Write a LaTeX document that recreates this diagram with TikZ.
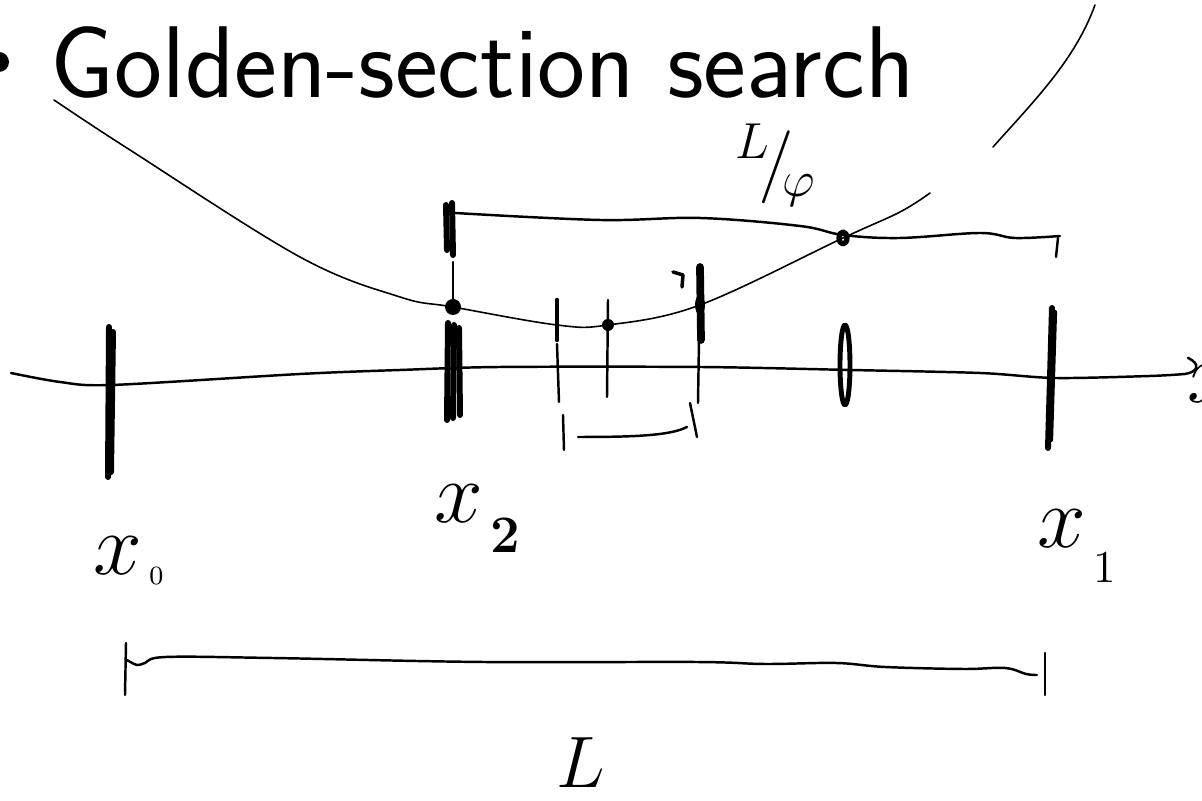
\documentclass[tikz,border=0pt]{standalone}
\usepackage{graphicx}
% handwritten label with a dropped, smaller index
\newcommand{\hlabel}[4]{\(#1\)\kern2pt\raisebox{-#4}{\fontsize{#3}{#3}\selectfont #2}}
\begin{document}
\begin{tikzpicture}[
  x=0.01cm,
  y=-0.01cm,
  line cap=round,
  line join=round,
  fine/.style={line width=0.45pt},
  pen/.style={line width=0.7pt},
  marker/.style={line width=1.7pt},
  hand/.style={inner sep=0pt,font=\fontsize{26pt}{30pt}\selectfont}
]
  \useasboundingbox (0,0) rectangle (1202,801);
  \clip (0,0) rectangle (1202,801);

  % Slide heading with its (cut) bullet.
  \fill (-1,62) circle[radius=10];
  \node[anchor=base west,inner sep=0pt,font=\sffamily\fontsize{29pt}{32pt}\selectfont] (title) at (50,98) {Golden-section search};

  % The function being minimised, and a stray stroke on the right.
  \draw[fine] plot[smooth,tension=0.6] coordinates {(54,100) (130,150) (300,257) (400,297) (453,307) (557,325) (608,325) (700,305) (843,238) (900,212) (930,193)};
  \draw[fine] (993,147) .. controls (1035,100) and (1075,60) .. (1095,5);

  % The x axis.
  \draw[pen] plot[smooth,tension=0.5] coordinates {(11,373) (60,382) (112,385) (300,374) (400,370) (500,367) (700,367) (850,370) (980,373) (1055,378) (1150,376) (1185,374)};
  \draw[pen] (1185,374) .. controls (1198,372) and (1201,364) .. (1188,358);
  \node[hand,anchor=base west] (xaxis) at (1187,403) {$x$};

  % Bracket points x0, x2, x1.
  \coordinate (xzero) at (110,385);
  \coordinate (xtwo) at (453,370);
  \coordinate (xone) at (1051,377);
  \draw[marker] (109,327) -- (108,477);
  \draw[marker] (113,332) -- (111,472);
  \draw[marker] (448,323) -- (447,420);
  \draw[marker] (454,325) -- (453,418);
  \draw[marker] (459,328) -- (460,415);
  \draw[marker] (446,205) -- (447,250);
  \draw[marker] (452,203) -- (453,255);
  \draw[pen] (453,262) -- (453,300);
  \fill (453,307) circle[radius=8];
  \draw[marker] (1052,308) -- (1048,448);
  \draw[line width=1.2pt] (1055,312) -- (1051,440);

  % Inner probe points.
  \draw[line width=1.3pt] (557,300) -- (557,340);
  \draw[pen] (557,344) -- (559,402);
  \draw[pen] (608,300) -- (607,397);
  \fill (608,325) circle[radius=6];
  \draw[line width=2.2pt] (700,267) -- (701,340);
  \fill (700,305) ellipse[x radius=5,y radius=10];
  \draw[pen] (699,340) -- (698,403);
  \draw[line width=1pt] (673,272) -- (683,275) -- (682,287);
  \draw[line width=1.4pt] (845,365) ellipse[x radius=5,y radius=40];
  \draw[line width=1.5pt] (843,238) ellipse[x radius=4,y radius=6];

  % Upper span of length L/phi.
  \draw[pen] plot[smooth,tension=0.6] coordinates {(455,213) (600,220) (700,218) (800,226) (843,235) (900,238) (980,233) (1015,238) (1060,236)};
  \draw[pen] (1058,238) -- (1056,257);
  \node[hand,font=\fontsize{22pt}{26pt}\selectfont] (lphi) at (776,165) {$^{L}\!/\!_{\varphi}$};

  % Small span below the probes.
  \draw[pen] (563,415) -- (564,450);
  \draw[pen] (578,437) .. controls (630,437) and (670,436) .. (687,427);
  \draw[pen] (690,403) -- (697,437);

  % Labels under the axis.
  \node[hand,anchor=base west] (lzero) at (93,575) {\hlabel{x}{0}{7.5pt}{2.8pt}};
  \node[hand,anchor=base west] (ltwo) at (434,523) {\hlabel{x}{\textbf{2}}{15pt}{8.5pt}};
  \node[hand,anchor=base west] (lone) at (1037,548) {\hlabel{x}{1}{13pt}{9.7pt}};

  % Whole interval L.
  \draw[pen] (126,643) -- (125,695);
  \draw[pen] plot[smooth,tension=0.6] coordinates {(127,660) (137,665) (145,663) (166,657) (272,658) (483,662) (695,662) (765,664) (836,663) (885,667) (963,669) (1005,668) (1026,674) (1037,675)};
  \draw[pen] (1045,653) -- (1045,695);
  \node[hand,anchor=base west,font=\fontsize{22pt}{26pt}\selectfont] (llen) at (556,788) {$L$};
\end{tikzpicture}
\end{document}
